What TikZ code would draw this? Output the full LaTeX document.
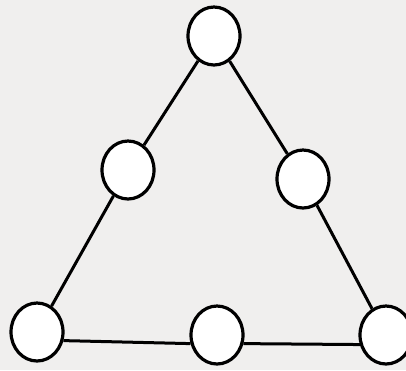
\documentclass[tikz,border=0pt]{standalone}
\usetikzlibrary{shapes.geometric}
\definecolor{paper}{RGB}{240,239,238}
\tikzset{
  ring/.style={draw=black, ellipse, line width=3.2pt, minimum width=52pt, minimum height=58pt, inner sep=0pt, fill=white},
  edge/.style={draw=black, line width=3pt}
}
\begin{document}
\begin{tikzpicture}[x=1pt,y=-1pt]
\useasboundingbox (0,0) rectangle (406,370);
\clip (0,0) rectangle (406,370);
\fill[paper] (0,0) rectangle (406,370);
\node[ring] (t) at (214,36) {};
\node[ring] (ml) at (128,170) {};
\node[ring] (mr) at (303,179) {};
\node[ring] (bl) at (37,332) {};
\node[ring] (bm) at (217,335) {};
\node[ring] (br) at (386,335) {};
\draw[edge] (t) -- (ml);
\draw[edge] (ml) -- (bl);
\draw[edge] (t) -- (mr);
\draw[edge] (mr) -- (br);
\draw[edge] (bl.-18) -- (bm.198);
\draw[edge] (bm.-18) -- (br.200);
\end{tikzpicture}
\end{document}
